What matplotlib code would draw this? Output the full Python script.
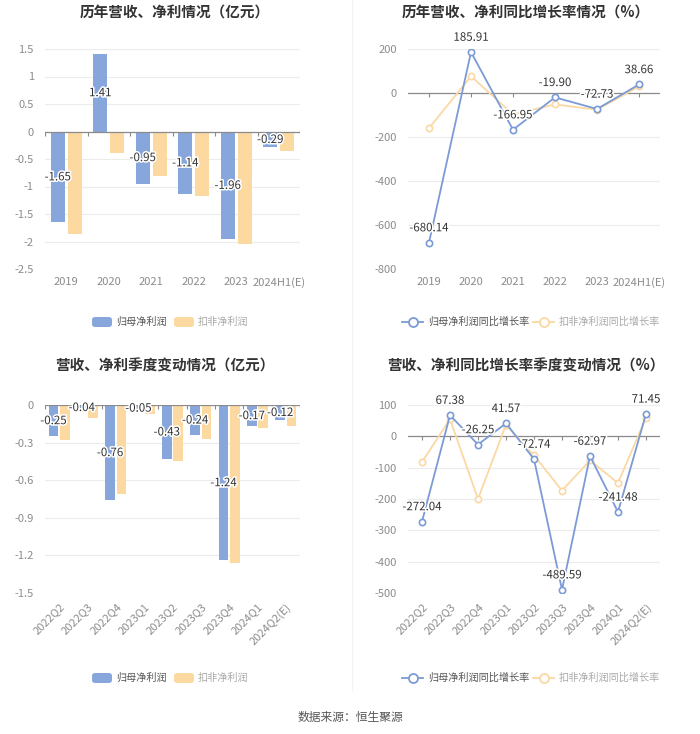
import matplotlib
matplotlib.use("Agg")
import matplotlib.pyplot as plt
import matplotlib.patheffects as pe
from matplotlib.lines import Line2D
from matplotlib.patches import FancyBboxPatch
import numpy as np

plt.rcParams['font.family'] = ['Noto Sans CJK SC', 'DejaVu Sans']

# ---- data ----
years = ['2019', '2020', '2021', '2022', '2023', '2024H1(E)']
year_np = [-1.65, 1.41, -0.95, -1.14, -1.96, -0.29]
year_kf = [-1.86, -0.39, -0.80, -1.18, -2.05, -0.36]

year_np_yoy = [-680.14, 185.91, -166.95, -19.90, -72.73, 38.66]
year_kf_yoy = [-160, 76, -97, -52, -76, 30]

quarters = ['2022Q2', '2022Q3', '2022Q4', '2023Q1', '2023Q2', '2023Q3',
            '2023Q4', '2024Q1', '2024Q2(E)']
q_np = [-0.25, -0.04, -0.76, -0.05, -0.43, -0.24, -1.24, -0.17, -0.12]
q_kf = [-0.28, -0.10, -0.71, -0.07, -0.45, -0.27, -1.26, -0.18, -0.17]

q_np_yoy = [-272.04, 67.38, -26.25, 41.57, -72.74, -489.59, -62.97, -241.48, 71.45]
q_kf_yoy = [-82, 55, -200, 37, -61, -173, -77, -149, 60]

BLUE = '#87a7dc'
ORANGE = '#fdd9a2'
LBLUE = '#7b9bd6'
LORANGE = '#fbd8a4'
W, H = 700, 734

fig = plt.figure(figsize=(W / 100, H / 100), dpi=100)


def px_axes(x0, y0, x1, y1):
    return fig.add_axes([x0 / W, 1 - y1 / H, (x1 - x0) / W, (y1 - y0) / H])


def style_axes(ax, yticks, ylabels, n):
    ax.set_ylim(yticks[0], yticks[-1])
    ax.set_xlim(-0.5, n - 0.5)
    for s in ax.spines.values():
        s.set_visible(False)
    ax.set_yticks(yticks)
    ax.set_yticklabels(ylabels)
    ax.tick_params(axis='y', length=0, labelsize=8, labelcolor='#8c8c8c', pad=8)
    ax.tick_params(axis='x', length=0, labelsize=8, labelcolor='#8c8c8c', pad=6)
    for t in yticks:
        if t != 0:
            ax.axhline(t, color='#ececec', lw=0.8, zorder=0)
    ax.axhline(0, color='#8a8a8a', lw=0.9, zorder=3)


def zero_ticks(ax, xs):
    lo, hi = ax.get_ylim()
    L = (hi - lo) * 4.0 / (ax.get_position().height * H)
    ax.vlines(xs, 0, -L, color='#8a8a8a', lw=0.8, zorder=3)


outline = [pe.withStroke(linewidth=2.2, foreground='white')]


def bar_panel(ax, cats, a, b, yticks, ylabels, rot=False):
    n = len(cats)
    x = np.arange(n)
    ax.bar(x - 0.2, a, width=0.33, color=BLUE, zorder=2)
    ax.bar(x + 0.2, b, width=0.33, color=ORANGE, zorder=2)
    style_axes(ax, yticks, ylabels, n)
    zero_ticks(ax, np.arange(n + 1) - 0.5)
    ax.set_xticks(x)
    if rot:
        ax.set_xticklabels(cats, rotation=45, ha='right', rotation_mode='anchor')
    else:
        ax.set_xticklabels(cats)
    for xi, v in zip(x, a):
        ax.text(xi - 0.2, v / 2, f'{v:.2f}', ha='center', va='center', fontsize=8.3,
                color='#333333', path_effects=outline, zorder=5)


def line_panel(ax, cats, a, b, yticks, ylabels, rot=False):
    n = len(cats)
    x = np.arange(n)
    ax.plot(x, b, color=LORANGE, lw=1.3, marker='o', ms=4.5, mfc='white',
            mec=LORANGE, mew=1.2, zorder=4)
    ax.plot(x, a, color=LBLUE, lw=1.3, marker='o', ms=4.5, mfc='white',
            mec=LBLUE, mew=1.2, zorder=5)
    style_axes(ax, yticks, ylabels, n)
    zero_ticks(ax, x)
    ax.set_xticks(x)
    if rot:
        ax.set_xticklabels(cats, rotation=45, ha='right', rotation_mode='anchor')
    else:
        ax.set_xticklabels(cats)
    for xi, v in zip(x, a):
        ax.annotate(f'{v:.2f}', (xi, v), xytext=(0, 6), textcoords='offset points',
                    ha='center', va='bottom', fontsize=8.3, color='#333333',
                    path_effects=outline, zorder=6)


def bar_legend(x0, cy):
    items = [('归母净利润', BLUE, '#555555', 0), ('扣非净利润', ORANGE, '#aaaaaa', 82)]
    for lab, c, tc, dx in items:
        x = x0 + dx
        fig.patches.append(FancyBboxPatch((x / W, 1 - (cy + 5) / H), 20 / W, 10 / H,
                                          boxstyle='round,pad=0,rounding_size=0.004',
                                          transform=fig.transFigure, color=c, lw=0))
        fig.text((x + 24) / W, 1 - cy / H, lab, fontsize=7.3, color=tc, va='center')


def line_legend(x0, cy):
    items = [('归母净利润同比增长率', LBLUE, '#555555', 0),
             ('扣非净利润同比增长率', LORANGE, '#aaaaaa', 131)]
    for lab, c, tc, dx in items:
        x = x0 + dx
        fig.lines.append(Line2D([x / W, (x + 21) / W], [1 - cy / H] * 2, color=c, lw=1.3,
                                transform=fig.transFigure))
        fig.lines.append(Line2D([(x + 10.5) / W], [1 - cy / H], color=c, marker='o', ms=6.5,
                                mfc='white', mew=1.3, transform=fig.transFigure))
        fig.text((x + 26) / W, 1 - cy / H, lab, fontsize=7.3, color=tc, va='center')


# divider
fig.lines.append(Line2D([352 / W] * 2, [0.06, 1], color='#f2f2f2', lw=0.8,
                        transform=fig.transFigure))

# top-left
ax1 = px_axes(45, 49, 300, 269)
bar_panel(ax1, years, year_np, year_kf,
          [-2.5, -2, -1.5, -1, -0.5, 0, 0.5, 1, 1.5],
          ['-2.5', '-2', '-1.5', '-1', '-0.5', '0', '0.5', '1', '1.5'])
fig.text(175 / W, 1 - 13 / H, '历年营收、净利情况（亿元）', ha='center', va='center',
         fontsize=10.5, fontweight='bold', color='#333333')
bar_legend(92, 322)

# top-right
ax2 = px_axes(408, 49, 660, 269)
line_panel(ax2, years, year_np_yoy, year_kf_yoy,
           [-800, -600, -400, -200, 0, 200],
           ['-800', '-600', '-400', '-200', '0', '200'])
fig.text(526 / W, 1 - 13 / H, '历年营收、净利同比增长率情况（%）', ha='center', va='center',
         fontsize=10.5, fontweight='bold', color='#333333')
line_legend(402, 322)

# bottom-left
ax3 = px_axes(45, 405, 300, 593)
bar_panel(ax3, quarters, q_np, q_kf,
          [-1.5, -1.2, -0.9, -0.6, -0.3, 0],
          ['-1.5', '-1.2', '-0.9', '-0.6', '-0.3', '0'], rot=True)
fig.text(165 / W, 1 - 366 / H, '营收、净利季度变动情况（亿元）', ha='center', va='center',
         fontsize=10.5, fontweight='bold', color='#333333')
bar_legend(92, 678)

# bottom-right
ax4 = px_axes(408, 405, 660, 593)
line_panel(ax4, quarters, q_np_yoy, q_kf_yoy,
           [-500, -400, -300, -200, -100, 0, 100],
           ['-500', '-400', '-300', '-200', '-100', '0', '100'], rot=True)
fig.text(526 / W, 1 - 366 / H, '营收、净利同比增长率季度变动情况（%）', ha='center', va='center',
         fontsize=10.5, fontweight='bold', color='#333333')
line_legend(402, 678)

fig.text(0.5, 1 - 717 / H, '数据来源：恒生聚源', ha='center', va='center',
         fontsize=8.5, color='#555555')

fig.savefig('out.png', dpi=100, facecolor='white')
